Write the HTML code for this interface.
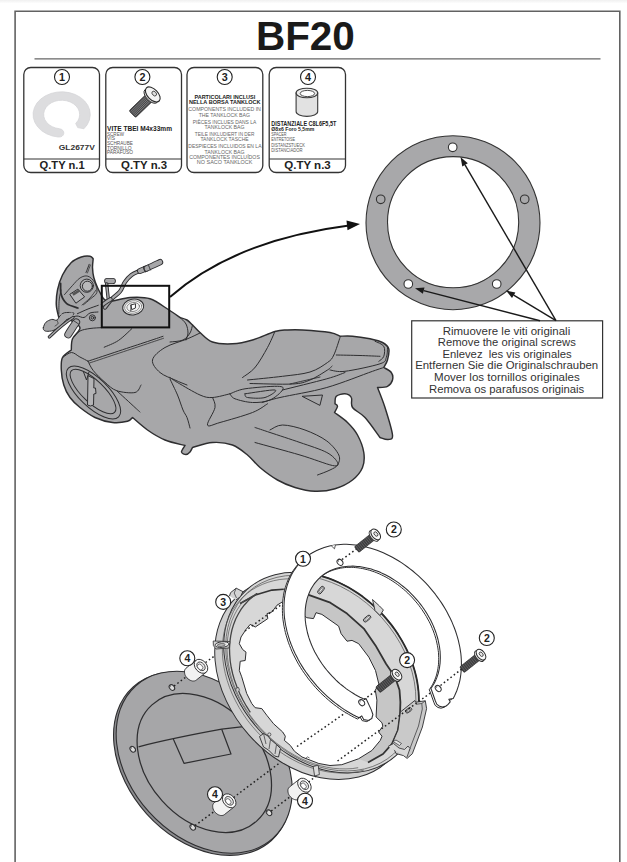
<!DOCTYPE html>
<html><head><meta charset="utf-8"><title>BF20</title><style>
html,body{margin:0;padding:0;background:#fff;overflow:hidden}
svg{display:block}
text{font-family:"Liberation Sans",sans-serif}
</style></head><body>
<svg width="627" height="862" viewBox="0 0 627 862">
<defs>
<linearGradient id="tg" x1="0" y1="0" x2="0" y2="1"><stop offset="0" stop-color="#f0f0f0"/><stop offset="1" stop-color="#ffffff"/></linearGradient>
</defs>
<rect x="0" y="0" width="627" height="862" fill="#fff"/>
<rect x="0" y="0" width="627" height="3.5" fill="url(#tg)"/>

<path d="M15.1 862 V11.3 H619.8 V862" fill="none" stroke="#626262" stroke-width="1.6"/>
<path d="M34.5 58.8 H600.5" stroke="#666" stroke-width="1.3"/>
<text x="305.4" y="50.2" font-size="41.5" font-weight="bold" text-anchor="middle" textLength="99" lengthAdjust="spacingAndGlyphs" fill="#1a1a1a" >BF20</text>
<rect x="23.8" y="67.5" width="75.7" height="105" rx="7" ry="7" fill="#fff" stroke="#333" stroke-width="1.3"/>
<path d="M23.8 159 H99.5" stroke="#333" stroke-width="1.2"/>
<rect x="105.8" y="67.5" width="75.7" height="105" rx="7" ry="7" fill="#fff" stroke="#333" stroke-width="1.3"/>
<path d="M105.8 159 H181.5" stroke="#333" stroke-width="1.2"/>
<rect x="187" y="67.5" width="75.80000000000001" height="105" rx="7" ry="7" fill="#fff" stroke="#333" stroke-width="1.3"/>
<rect x="269.2" y="67.5" width="76.30000000000001" height="105" rx="7" ry="7" fill="#fff" stroke="#333" stroke-width="1.3"/>
<path d="M269.2 159 H345.5" stroke="#333" stroke-width="1.2"/>
<circle cx="62" cy="77" r="7.5" fill="#fff" stroke="#222" stroke-width="1.1"/>
<text x="62" y="80.9" font-size="10.8" font-weight="bold" text-anchor="middle" fill="#222" >1</text>
<circle cx="142.4" cy="77" r="7.5" fill="#fff" stroke="#222" stroke-width="1.1"/>
<text x="142.4" y="80.9" font-size="10.8" font-weight="bold" text-anchor="middle" fill="#222" >2</text>
<circle cx="224.7" cy="77" r="7.5" fill="#fff" stroke="#222" stroke-width="1.1"/>
<text x="224.7" y="80.9" font-size="10.8" font-weight="bold" text-anchor="middle" fill="#222" >3</text>
<circle cx="308" cy="77" r="7.5" fill="#fff" stroke="#222" stroke-width="1.1"/>
<text x="308" y="80.9" font-size="10.8" font-weight="bold" text-anchor="middle" fill="#222" >4</text>
<text x="62.1" y="169.4" font-size="11" font-weight="bold" text-anchor="middle" textLength="45" lengthAdjust="spacingAndGlyphs" fill="#222" >Q.TY n.1</text>
<text x="144.1" y="169.4" font-size="11" font-weight="bold" text-anchor="middle" textLength="46" lengthAdjust="spacingAndGlyphs" fill="#222" >Q.TY n.3</text>
<text x="307.5" y="169.4" font-size="11" font-weight="bold" text-anchor="middle" textLength="46.5" lengthAdjust="spacingAndGlyphs" fill="#222" >Q.TY n.3</text>
<g transform="translate(61.7 114.5) scale(1 0.794)"><path d="M22.2 18 A28.6 28.6 0 1 0 -3.5 28.4 A5.3 5.3 0 0 0 -2.2 17.9 A18 18 0 1 1 14 11.3 L16 16.5 Z" fill="#dddddf" stroke="#d4d4d6" stroke-width="0.8"/></g>
<text x="58.8" y="150.2" font-size="6.8" font-weight="bold" textLength="36" lengthAdjust="spacingAndGlyphs" fill="#333" >GL2677V</text>
<g transform="translate(152.8 94.4) rotate(136)"><rect x="3" y="-4.7" width="25.5" height="9.4" rx="1.5" fill="#474749" stroke="#2a2a2a" stroke-width="0.7"/><path d="M6 -3.1 H28" stroke="#9a9a9a" stroke-width="0.6"/><path d="M6 -1.55 H28" stroke="#9a9a9a" stroke-width="0.6"/><path d="M6 0 H28" stroke="#9a9a9a" stroke-width="0.6"/><path d="M6 1.55 H28" stroke="#9a9a9a" stroke-width="0.6"/><path d="M6 3.1 H28" stroke="#9a9a9a" stroke-width="0.6"/><ellipse cx="2.6" cy="0" rx="4.6" ry="8.8" fill="#dadada" stroke="#2a2a2a" stroke-width="0.9"/><ellipse cx="0" cy="0" rx="5.2" ry="9.2" fill="#f4f4f4" stroke="#2a2a2a" stroke-width="1.1"/><ellipse cx="-1.6" cy="-0.4" rx="1.9" ry="2.7" fill="#e0e0e0" stroke="#333" stroke-width="0.8"/></g>
<text x="107" y="130.8" font-size="6.5" font-weight="bold" textLength="65" lengthAdjust="spacingAndGlyphs" fill="#222" >VITE TBEI M4x33mm</text>
<text x="107" y="135.6" font-size="5" textLength="17" lengthAdjust="spacingAndGlyphs" fill="#555" >SCREW</text>
<text x="107" y="140.1" font-size="5" textLength="8" lengthAdjust="spacingAndGlyphs" fill="#555" >VIS</text>
<text x="107" y="145.4" font-size="5" textLength="26" lengthAdjust="spacingAndGlyphs" fill="#555" >SCHRAUBE</text>
<text x="107" y="149.8" font-size="5" textLength="24.5" lengthAdjust="spacingAndGlyphs" fill="#555" >TORNILLO</text>
<text x="107" y="154.3" font-size="5" textLength="26" lengthAdjust="spacingAndGlyphs" fill="#555" >PARAFUSO</text>
<text x="194.4" y="99.1" font-size="5.6" font-weight="bold" textLength="60.8" lengthAdjust="spacingAndGlyphs" fill="#222" >PARTICOLARI INCLUSI</text>
<text x="188.9" y="104" font-size="5.6" font-weight="bold" textLength="71.7" lengthAdjust="spacingAndGlyphs" fill="#222" >NELLA BORSA TANKLOCK</text>
<text x="188.3" y="110.9" font-size="5.4" textLength="72.6" lengthAdjust="spacingAndGlyphs" fill="#666" >COMPONENTS INCLUDED IN</text>
<text x="198.7" y="116.8" font-size="5.4" textLength="51.3" lengthAdjust="spacingAndGlyphs" fill="#666" >THE TANKLOCK BAG</text>
<text x="192.8" y="124" font-size="5.4" textLength="63.5" lengthAdjust="spacingAndGlyphs" fill="#666" >PIÈCES INCLUES DANS LA</text>
<text x="204.6" y="128.5" font-size="5.4" textLength="39.9" lengthAdjust="spacingAndGlyphs" fill="#666" >TANKLOCK BAG</text>
<text x="194.8" y="136" font-size="5.4" textLength="59.5" lengthAdjust="spacingAndGlyphs" fill="#666" >TEILE INKLUDIERT IN DER</text>
<text x="200.4" y="140.6" font-size="5.4" textLength="48.3" lengthAdjust="spacingAndGlyphs" fill="#666" >TANKLOCK TASCHE</text>
<text x="188.3" y="147.8" font-size="5.4" textLength="73.2" lengthAdjust="spacingAndGlyphs" fill="#666" >DESPIECES INCLUIDOS EN LA</text>
<text x="204.6" y="153.7" font-size="5.4" textLength="39.9" lengthAdjust="spacingAndGlyphs" fill="#666" >TANKLOCK BAG</text>
<text x="189.2" y="158.6" font-size="5.4" textLength="70.7" lengthAdjust="spacingAndGlyphs" fill="#666" >COMPONENTES INCLUÍDOS</text>
<text x="196.8" y="163.9" font-size="5.4" textLength="55.6" lengthAdjust="spacingAndGlyphs" fill="#666" >NO SACO TANKLOCK</text>
<g stroke="#3a3a3a" stroke-width="1.1"><path d="M296.1 93 V111.5 A10.8 4.9 0 0 0 317.7 111.5 V93 Z" fill="#e2e2e2"/><ellipse cx="306.9" cy="93" rx="10.8" ry="4.8" fill="#ececec"/><ellipse cx="307.4" cy="93.5" rx="7.2" ry="3.1" fill="#fff" stroke-width="0.9"/></g>
<text x="271.3" y="125.6" font-size="6.3" font-weight="bold" textLength="65" lengthAdjust="spacingAndGlyphs" fill="#222" >DISTANZIALE C8L6F5,5T</text>
<text x="271.3" y="130.7" font-size="5.4" font-weight="bold" textLength="43" lengthAdjust="spacingAndGlyphs" fill="#222" >Ø8x6 Foro 5,5mm</text>
<text x="271.3" y="136.3" font-size="5" textLength="15.3" lengthAdjust="spacingAndGlyphs" fill="#555" >SPACER</text>
<text x="271.3" y="141.3" font-size="5" textLength="23.8" lengthAdjust="spacingAndGlyphs" fill="#555" >ENTRETOISE</text>
<text x="271.3" y="146.5" font-size="5" textLength="33.6" lengthAdjust="spacingAndGlyphs" fill="#555" >DISTANZSTUECK</text>
<text x="271.3" y="152.3" font-size="5" textLength="31.3" lengthAdjust="spacingAndGlyphs" fill="#555" >DISTANCIADOR</text>
<g stroke="#333" stroke-width="1.1"><path fill-rule="evenodd" fill="#a8a8aa" d="M366 222.7 a87 87 0 1 0 174 0 a87 87 0 1 0 -174 0 Z M387.5 222.2 a65.6 65.6 0 1 0 131.2 0 a65.6 65.6 0 1 0 -131.2 0 Z"/><circle cx="452.7" cy="147.3" r="4.3" fill="#fff"/><circle cx="380.7" cy="199.3" r="4.3" fill="#a8a8aa"/><circle cx="524.7" cy="199.3" r="4.3" fill="#a8a8aa"/><circle cx="408.3" cy="284" r="4.3" fill="#fff"/><circle cx="496.7" cy="284" r="4.3" fill="#fff"/></g>
<rect x="411.7" y="320.8" width="190.9" height="77.2" fill="#fff" stroke="#333" stroke-width="1.2"/>
<path d="M556 320.7 L465.0 164.8" stroke="#1a1a1a" stroke-width="1.4" fill="none"/>
<path d="M460.5 157 L467.8 163.2 L462.3 166.4 Z" fill="#1a1a1a"/>
<path d="M556 320.7 L513.7 295.2" stroke="#1a1a1a" stroke-width="1.4" fill="none"/>
<path d="M506 290.5 L515.4 292.4 L512.0 297.9 Z" fill="#1a1a1a"/>
<path d="M540 320.7 L423.7 290.6" stroke="#1a1a1a" stroke-width="1.4" fill="none"/>
<path d="M415 288.3 L424.5 287.5 L422.9 293.7 Z" fill="#1a1a1a"/>
<text x="442.7" y="334.6" font-size="10.9" textLength="127.5" lengthAdjust="spacingAndGlyphs" fill="#333" style="white-space:pre">Rimuovere le viti originali</text>
<text x="437.8" y="346.2" font-size="10.9" textLength="138.0" lengthAdjust="spacingAndGlyphs" fill="#333" style="white-space:pre">Remove the original screws</text>
<text x="442.4" y="358" font-size="10.9" textLength="129.2" lengthAdjust="spacingAndGlyphs" fill="#333" style="white-space:pre">Enlevez  les vis originales</text>
<text x="415.2" y="369.4" font-size="10.9" textLength="183.0" lengthAdjust="spacingAndGlyphs" fill="#333" style="white-space:pre">Entfernen Sie die Originalschrauben</text>
<text x="434" y="381.3" font-size="10.9" textLength="145.8" lengthAdjust="spacingAndGlyphs" fill="#333" style="white-space:pre">Mover los tornillos originales</text>
<text x="429" y="392.7" font-size="10.9" textLength="155.2" lengthAdjust="spacingAndGlyphs" fill="#333" style="white-space:pre">Remova os parafusos originais</text>
<path d="M170 297 Q235 240 349 225.5" fill="none" stroke="#111" stroke-width="2"/>
<path d="M360 224 L347.5 230.3 L346.5 220.5 Z" fill="#111"/>
<g fill="none" stroke="#2e2e30" stroke-width="1" stroke-linejoin="round" stroke-linecap="round">
<path d="M58.8 317.5 C58.4 315.4 56.5 309.6 56.3 305.0 C56.1 300.4 56.5 295.0 57.5 290.0 C58.5 285.0 60.2 279.6 62.5 275.0 C64.8 270.4 68.2 265.5 71.3 262.5 C74.4 259.5 78.2 258.1 81.3 257.0 C84.4 255.9 88.0 255.9 90.0 256.2 C92.0 256.5 92.7 258.4 93.2 258.8 L93.2 258.8 C93.1 260.2 92.4 264.4 92.5 267.5 C92.6 270.6 93.0 274.2 93.8 277.5 C94.6 280.8 96.2 284.6 97.5 287.5 C98.8 290.4 100.7 293.8 101.3 295.0 L101.3 295.0 C101.9 295.8 103.1 299.0 105.0 300.0 C106.9 301.0 108.3 301.4 112.5 301.0 C116.7 300.6 123.8 297.9 130.0 297.5 C136.2 297.1 143.5 296.7 150.0 298.8 C156.5 300.9 164.0 306.9 169.0 310.0 C174.0 313.1 178.2 316.2 180.0 317.5 L180.0 317.5 C181.2 317.9 184.9 318.8 187.0 320.0 C189.1 321.2 190.3 322.9 192.5 325.0 C194.7 327.1 196.7 329.7 200.0 332.5 C203.3 335.3 207.1 340.1 212.5 342.0 C217.9 343.9 225.8 344.1 232.5 343.8 C239.2 343.5 245.4 342.1 252.5 340.0 C259.6 337.9 269.2 333.2 275.0 331.5 C280.8 329.8 282.4 330.2 287.0 330.0 C291.6 329.8 295.3 329.6 302.5 330.0 C309.7 330.4 323.8 331.5 330.0 332.5 C336.2 333.5 338.3 335.6 340.0 336.2 L340.0 336.2 C342.1 336.2 347.5 335.8 352.5 336.2 C357.5 336.6 365.0 337.8 370.0 338.8 C375.0 339.9 379.4 340.8 382.5 342.5 C385.6 344.2 388.0 346.1 388.8 349.0 C389.6 351.9 388.3 356.9 387.5 360.0 C386.7 363.1 384.4 366.2 383.8 367.5 L383.8 367.5 C385.1 368.3 389.9 370.4 391.3 372.5 C392.8 374.6 393.1 377.7 392.5 380.0 C391.9 382.3 390.0 385.1 387.5 386.3 C385.0 387.6 379.2 387.3 377.5 387.5 L377.5 387.5 C378.8 390.8 382.5 399.6 385.0 407.5 C387.5 415.4 392.0 429.7 392.5 435.0 C393.0 440.3 390.1 439.1 388.0 439.5 C385.9 439.9 381.3 437.8 380.0 437.5 L380.0 437.5 C377.5 434.2 369.6 422.5 365.0 417.5 C360.4 412.5 354.8 410.8 352.5 407.5 C350.2 404.2 352.6 399.8 351.3 397.5 C350.1 395.2 347.5 394.0 345.0 393.8 C342.5 393.6 338.0 394.6 336.3 396.3 C334.6 398.0 335.2 402.6 335.0 403.8 L335.0 403.8 C335.4 404.2 337.6 404.9 337.5 406.3 C337.4 407.8 335.0 411.5 334.5 412.5 L334.5 412.5 C336.7 414.2 343.7 418.8 347.5 422.5 C351.3 426.2 354.8 430.0 357.5 435.0 C360.2 440.0 363.0 447.1 363.8 452.5 C364.6 457.9 364.4 462.9 362.5 467.5 C360.6 472.1 357.1 476.4 352.5 480.0 C347.9 483.6 341.2 486.9 335.0 488.8 C328.8 490.7 321.7 491.5 315.0 491.3 C308.3 491.1 301.2 489.4 295.0 487.5 C288.8 485.6 283.3 483.3 277.5 480.0 C271.7 476.7 265.0 471.7 260.0 467.5 C255.0 463.3 252.1 458.8 247.5 455.0 C242.9 451.2 238.3 447.1 232.5 445.0 C226.7 442.9 219.2 442.1 212.5 442.5 C205.8 442.9 195.8 446.7 192.5 447.5 L192.5 447.5 C192.1 448.2 191.1 450.8 190.0 452.0 C188.9 453.2 187.4 454.5 186.0 454.5 C184.6 454.5 181.7 453.5 181.5 452.0 C181.3 450.5 184.4 446.6 185.0 445.5 L185.0 445.5 C181.7 444.6 171.2 442.6 165.0 440.0 C158.8 437.4 152.9 433.8 147.5 430.0 C142.1 426.2 135.0 419.6 132.5 417.5 L132.5 417.5 C131.7 418.1 130.8 420.5 127.5 421.3 C124.2 422.1 117.9 423.1 112.5 422.5 C107.1 421.9 100.4 420.0 95.0 417.5 C89.6 415.0 84.2 410.8 80.0 407.5 C75.8 404.2 72.7 401.2 70.0 397.5 C67.3 393.8 65.2 389.6 63.8 385.0 C62.3 380.4 61.5 374.6 61.3 370.0 C61.1 365.4 60.8 360.8 62.5 357.5 C64.2 354.2 69.8 351.2 71.3 350.0 L71.3 350.0 C71.5 348.1 71.0 342.5 72.5 338.8 C74.0 335.1 80.1 331.0 80.0 328.0 C79.9 325.0 75.5 322.8 72.0 321.0 C68.5 319.2 61.0 318.1 58.8 317.5 Z" fill="#a7a7a9" stroke-width="1.45"/>
<path d="M63.1 357.2 C64.5 356.4 68.7 352.5 71.5 352.5 C74.3 352.5 77.2 355.6 79.9 357.0 C82.7 358.4 86.7 360.5 88.0 361.2" stroke-width="1" />
<path d="M88.0 361.2 C97.2 358.2 130.5 347.1 143.0 343.0 C155.5 338.9 159.7 337.4 163.0 336.3" stroke-width="1" />
<path d="M89.5 363.0 C98.5 360.0 131.2 349.1 143.5 345.0 C155.8 340.9 160.2 339.4 163.5 338.3" stroke-width="0.8" />
<path d="M88.0 361.2 C88.9 362.8 90.5 367.1 93.3 370.6 C96.1 374.1 101.1 379.0 105.0 382.3 C108.9 385.6 111.7 389.0 116.7 390.7 C121.7 392.4 130.9 393.4 135.0 392.5 C139.1 391.6 140.0 386.2 141.0 385.0" stroke-width="1" />
<path d="M116.7 390.7 C119.8 393.5 131.1 403.9 135.0 407.5 C138.9 411.1 139.2 411.2 140.0 412.0" stroke-width="1" />
<path d="M104.2 347.2 C106.6 346.1 113.8 343.6 118.4 340.5 C123.0 337.4 129.6 330.7 131.8 328.7" stroke-width="1" />
<path d="M74.0 337.0 C75.0 336.0 77.3 332.4 80.0 331.0 C82.7 329.6 86.3 329.1 90.0 328.5 C93.7 327.9 100.0 327.8 102.0 327.6" stroke-width="1" />
<ellipse cx="93.5" cy="392.5" rx="35" ry="14.5" transform="rotate(44 93.5 392.5)"/>
<ellipse cx="93" cy="391.5" rx="30" ry="11" transform="rotate(44 93 391.5)"/>
<path d="M88 376 L87.5 405 Q90.5 407 93.5 405 L93.8 394 L96 393.5 L95.5 388 L93.8 388 L94 379 Z" fill="#b4b4b6"/>
<path d="M83.5 372 L86.5 380 L89 372" />
<path d="M200.0 333.0 C197.8 334.0 192.8 336.6 187.0 339.0 C181.2 341.4 170.8 344.0 165.0 347.5 C159.2 351.0 153.3 355.8 152.5 360.0 C151.7 364.2 156.2 369.2 160.0 372.5 C163.8 375.8 170.5 377.9 175.0 380.0 C179.5 382.1 185.0 384.2 187.0 385.0" stroke-width="1" />
<path d="M170.0 379.0 C171.2 381.7 175.3 389.8 177.5 395.0 C179.7 400.2 181.4 406.2 183.0 410.0 C184.6 413.8 185.8 414.5 187.0 417.5 C188.2 420.5 189.5 426.2 190.0 428.0" stroke-width="1" />
<path d="M180.0 317.5 C181.0 318.6 184.7 321.4 186.0 324.0 C187.3 326.6 188.0 330.3 188.0 333.0 C188.0 335.7 186.3 338.8 186.0 340.0" stroke-width="1" />
<path d="M170.0 342.0 C172.2 341.7 179.7 341.5 183.0 340.0 C186.3 338.5 188.4 335.5 190.0 333.0 C191.6 330.5 192.1 326.3 192.5 325.0" stroke-width="1" />
<path d="M275.0 331.3 C273.8 334.0 270.8 341.5 267.5 347.5 C264.2 353.5 259.2 362.5 255.0 367.5 C250.8 372.5 244.6 375.8 242.5 377.5" stroke-width="1" />
<path d="M247.5 380.0 C253.3 379.4 272.1 377.6 282.5 376.3 C292.9 375.0 302.5 374.3 310.0 372.0 C317.5 369.7 323.5 365.3 327.5 362.5 C331.5 359.7 331.7 359.2 333.8 355.0 C335.9 350.8 339.0 340.4 340.0 337.5" stroke-width="1" />
<path d="M250.0 383.5 C257.1 383.6 282.5 384.6 292.5 384.0 C302.5 383.4 304.2 382.3 310.0 380.0 C315.8 377.7 323.8 372.3 327.5 370.0 C331.2 367.7 331.2 366.7 332.0 366.0" stroke-width="1" />
<path d="M336.3 355.0 C340.2 355.1 352.7 355.3 360.0 355.5 C367.3 355.7 376.7 356.2 380.0 356.3" stroke-width="1" />
<path d="M330.0 370.0 C332.5 370.2 336.7 372.3 345.0 371.3 C353.3 370.3 373.1 366.1 380.0 363.8 C386.9 361.5 385.1 360.2 386.3 357.5 C387.6 354.8 387.3 349.2 387.5 347.5" stroke-width="1" />
<path d="M375.0 341.3 C376.5 342.1 382.3 343.8 383.8 346.3 C385.3 348.8 384.6 353.8 383.8 356.3 C383.0 358.8 379.6 360.5 378.8 361.3" stroke-width="1" />
<path d="M230.0 393.8 C232.5 393.0 237.1 390.1 245.0 388.8 C252.9 387.6 271.2 386.1 277.5 386.3 C283.8 386.5 283.8 387.7 282.5 390.0 C281.2 392.3 275.0 397.9 270.0 400.0 C265.0 402.1 258.3 402.7 252.5 402.5 C246.7 402.3 238.8 400.2 235.0 398.8 C231.2 397.4 230.8 394.6 230.0 393.8" stroke-width="1" />
<path d="M245.0 393.8 C250.0 393.2 271.7 389.4 275.0 390.0 C278.3 390.6 269.6 396.2 265.0 397.5 C260.4 398.8 250.8 398.1 247.5 397.5 C244.2 396.9 245.4 394.4 245.0 393.8" stroke-width="1" />
<path d="M282.5 390.0 C289.9 388.1 316.4 381.7 326.8 378.8 C337.2 375.9 342.0 373.6 345.0 372.5" stroke-width="1" />
<path d="M262.0 402.5 C265.0 401.7 269.2 400.0 280.0 397.5 C290.8 395.0 311.4 391.9 326.8 387.5 C342.2 383.1 363.0 374.6 372.5 371.3 C382.0 368.0 381.9 368.1 383.8 367.5" stroke-width="1" />
<path d="M290.0 384.0 C295.0 382.8 315.0 378.2 320.0 377.0" stroke-width="0.9" />
<path d="M302.5 396.3 L322.5 395 L320 405 Z"/>
<path d="M170.0 377.5 C171.2 378.3 172.5 379.6 177.5 382.5 C182.5 385.4 194.2 392.5 200.0 395.0 C205.8 397.5 207.5 397.7 212.5 397.5 C217.5 397.3 227.1 394.4 230.0 393.8" stroke-width="1" />
<path d="M212.5 397.5 C212.9 399.2 215.8 402.9 215.0 407.5 C214.2 412.1 206.7 422.5 207.5 425.0 C208.3 427.5 212.5 424.6 220.0 422.5 C227.5 420.4 244.6 415.6 252.5 412.5 C260.4 409.4 265.0 405.2 267.5 403.8" stroke-width="1" />
<path d="M255.0 427.5 C257.5 428.3 262.5 430.0 270.0 432.5 C277.5 435.0 290.5 439.2 300.0 442.5 C309.5 445.8 320.6 449.2 326.8 452.5 C333.1 455.8 336.6 460.3 337.5 462.5 C338.4 464.7 338.8 466.8 332.5 465.5 C326.2 464.2 312.9 458.8 300.0 455.0 C287.1 451.2 262.5 444.6 255.0 442.5" stroke-width="1" />
<path d="M270.0 430.0 C272.1 429.2 276.7 425.0 282.5 425.0 C288.3 425.0 297.6 427.3 305.0 430.0 C312.4 432.7 321.2 436.8 326.8 441.0 C332.4 445.2 337.0 451.0 338.8 455.0 C340.6 459.0 339.0 462.5 337.5 465.0 C336.0 467.5 333.3 468.3 330.0 470.0 C326.7 471.7 319.6 474.2 317.5 475.0" stroke-width="1" />
<path d="M58.8 314.0 C58.9 311.7 58.8 304.0 59.2 300.0 C59.6 296.0 60.7 291.7 61.0 290.0" stroke-width="0.9" />
<path d="M60.6 283.5 C60.7 285.4 60.2 291.2 61.2 294.6 C62.2 298.0 63.9 301.4 66.7 303.6 C69.5 305.8 76.0 307.3 77.9 308.0" stroke-width="1.8" />
<path d="M64.5 294.6 C65.8 293.1 69.7 288.5 72.3 285.7 C74.9 282.9 77.5 279.5 80.1 277.9 C82.7 276.3 85.5 275.4 87.9 276.2 C90.3 276.9 93.1 279.7 94.6 282.4 C96.1 285.1 97.6 289.6 96.9 292.4 C96.2 295.2 92.4 297.1 90.2 299.1 C88.0 301.2 84.6 303.8 83.5 304.7" stroke-width="0.9" />
<circle cx="86.8" cy="285.7" r="6.6" fill="#b0b0b2"/>
<circle cx="87.4" cy="286.2" r="5" fill="#b8b8ba"/>
<path d="M70.1 294.1 L77.9 289.1 L84.6 296.9 L76.2 303 Z" fill="#b4b4b6"/>
<path d="M72 293.6 L78.6 289.6 L80.2 291.6 L73.6 295.8 Z" fill="#555" stroke="none"/>
<path d="M89.2 264.3 C89.0 264.9 88.3 266.6 87.8 268.0 C87.3 269.4 86.3 271.8 86.0 272.5" stroke-width="1" />
<path d="M90.4 265.0 C90.2 265.6 89.5 267.3 89.0 268.6 C88.5 269.9 87.7 272.3 87.4 273.0" stroke-width="0.8" />
<path d="M82.0 305.0 C83.3 303.8 87.7 300.5 90.0 298.0 C92.3 295.5 95.0 291.3 96.0 290.0" stroke-width="0.8" />
<path d="M77.4 313.7 C79.2 312.9 84.5 310.4 88.0 309.0 C91.5 307.6 96.6 305.9 98.3 305.3" stroke-width="1" />
<path d="M70.0 318.0 C71.2 317.7 74.7 316.1 77.0 316.0 C79.3 315.9 81.8 318.0 84.0 317.5 C86.2 317.0 87.7 313.9 90.0 313.0 C92.3 312.1 96.7 312.2 98.0 312.0" stroke-width="1" />
<circle cx="92.4" cy="317.8" r="3" fill="#b4b4b6"/>
<circle cx="92.4" cy="317.8" r="1.4" fill="#999"/>
<path d="M43.4 327.4 C43.8 326.1 44.5 323.6 45.9 322.3 C47.3 321.0 49.9 319.8 51.7 319.4 C53.5 319.0 55.4 320.8 56.8 320.2 C58.2 319.6 58.7 317.1 60.0 315.9 C61.3 314.7 62.2 313.3 64.4 312.8 C66.6 312.3 72.1 312.3 73.4 312.8 C74.7 313.3 73.4 314.6 72.1 315.9 C70.8 317.2 67.4 318.9 65.7 320.4 C64.0 321.9 63.1 323.7 61.9 324.9 C60.7 326.1 60.2 326.4 58.7 327.4 C57.2 328.3 55.0 330.0 53.0 330.6 C51.0 331.2 48.1 331.4 46.6 331.3 C45.1 331.2 44.3 330.6 43.8 330.0 C43.3 329.4 43.0 328.7 43.4 327.4 Z" fill="#a7a7a9"/>
<path d="M61 314.5 L72.5 312.2 L73 317 L64 319.5 Z" fill="#a7a7a9" stroke="none"/>
<path d="M56.8 320.2 C57.0 320.8 58.3 322.5 58.0 323.5 C57.7 324.5 55.5 325.6 55.0 326.0" stroke-width="0.8" />
<path d="M49.3 337.0 C50.8 335.7 55.2 331.4 58.0 329.0 C60.8 326.6 63.5 324.4 66.0 322.5 C68.5 320.6 71.8 318.3 73.0 317.5" stroke-width="3.2" stroke="#2e2e30"/>
<path d="M49.3 337.0 C50.8 335.7 55.2 331.4 58.0 329.0 C60.8 326.6 63.5 324.4 66.0 322.5 C68.5 320.6 71.8 318.3 73.0 317.5" stroke-width="1.4000000000000001" stroke="#a7a7a9"/>
<path d="M68.2 334.5 C68.8 333.5 70.7 330.5 72.0 328.5 C73.3 326.5 75.5 323.3 76.2 322.3" stroke-width="7.8" stroke="#2e2e30"/>
<path d="M68.2 334.5 C68.8 333.5 70.7 330.5 72.0 328.5 C73.3 326.5 75.5 323.3 76.2 322.3" stroke-width="6.0" stroke="#a7a7a9"/>
<path d="M73.0 320.2 C74.0 320.9 77.8 323.5 78.8 324.2" stroke-width="0.9" />
<path d="M107.2 281.0 C108.1 281.0 111.9 281.0 112.8 281.0" stroke-width="6.2" stroke="#2e2e30"/>
<path d="M107.2 281.0 C108.1 281.0 111.9 281.0 112.8 281.0" stroke-width="4.4" stroke="#a7a7a9"/>
<path d="M106.7 284.0 C106.8 285.3 107.2 289.3 107.5 292.0 C107.8 294.7 108.2 298.7 108.4 300.0" stroke-width="3.4" stroke="#2e2e30"/>
<path d="M106.7 284.0 C106.8 285.3 107.2 289.3 107.5 292.0 C107.8 294.7 108.2 298.7 108.4 300.0" stroke-width="1.5999999999999999" stroke="#a7a7a9"/>
<path d="M105.0 307.5 C106.1 306.1 109.2 301.7 111.7 299.0 C114.2 296.3 117.8 294.3 120.0 291.5 C122.2 288.7 123.1 284.8 125.0 282.0 C126.9 279.2 129.2 276.8 131.5 275.0 C133.8 273.2 136.2 272.4 138.5 271.5 C140.8 270.6 143.9 269.7 145.0 269.3" stroke-width="4.2" stroke="#2e2e30"/>
<path d="M105.0 307.5 C106.1 306.1 109.2 301.7 111.7 299.0 C114.2 296.3 117.8 294.3 120.0 291.5 C122.2 288.7 123.1 284.8 125.0 282.0 C126.9 279.2 129.2 276.8 131.5 275.0 C133.8 273.2 136.2 272.4 138.5 271.5 C140.8 270.6 143.9 269.7 145.0 269.3" stroke-width="2.4000000000000004" stroke="#a7a7a9"/>
<path d="M140.0 271.0 C141.0 270.6 145.0 269.0 146.0 268.6" stroke-width="6" stroke="#2e2e30"/>
<path d="M140.0 271.0 C141.0 270.6 145.0 269.0 146.0 268.6" stroke-width="4.2" stroke="#a7a7a9"/>
<path d="M146.5 268.5 C147.6 268.0 150.8 266.6 153.0 265.5 C155.2 264.4 158.8 262.8 160.0 262.2" stroke-width="6.4" stroke="#2e2e30"/>
<path d="M146.5 268.5 C147.6 268.0 150.8 266.6 153.0 265.5 C155.2 264.4 158.8 262.8 160.0 262.2" stroke-width="4.6000000000000005" stroke="#a7a7a9"/>
<path d="M143.5 266.5 C143.8 267.4 145.0 271.1 145.3 272.0" stroke-width="0.9" />
<path d="M148.3 264.8 C148.7 265.7 150.1 269.1 150.5 270.0" stroke-width="0.9" />
<path d="M103.0 304.5 C103.7 304.0 105.8 302.4 107.0 301.5 C108.2 300.6 109.9 299.7 110.5 299.3" stroke-width="4.4" stroke="#2e2e30"/>
<path d="M103.0 304.5 C103.7 304.0 105.8 302.4 107.0 301.5 C108.2 300.6 109.9 299.7 110.5 299.3" stroke-width="2.6000000000000005" stroke="#a7a7a9"/>
<g transform="rotate(-10 133.2 307)"><ellipse cx="133.2" cy="307" rx="10.6" ry="7.9" fill="#e6e6e6" stroke-width="1"/><ellipse cx="133.2" cy="307" rx="8.6" ry="6.2" fill="#fafafa" stroke-width="0.7" stroke="#777"/><ellipse cx="133.2" cy="307" rx="6.4" ry="4.5" fill="#f0f0f0" stroke-width="0.7" stroke="#666"/><path d="M131.5 304.6 L136 304.2 L135.2 308.4 L131.8 309.2 Z M131.5 304.6 L130.2 310.5" fill="#fff" stroke-width="0.9"/></g>
<rect x="101.8" y="285.8" width="67.4" height="41.6" stroke="#111" stroke-width="2" stroke-linejoin="miter"/>
</g>
<g stroke-linejoin="round" stroke-linecap="butt">
<ellipse cx="202.3" cy="763.7" rx="103.3" ry="74.9" transform="rotate(48 202.3 763.7)" fill="#8c8c8f" stroke="#2e2e30" stroke-width="1.1" />
<ellipse cx="204.2" cy="762.2" rx="102.5" ry="74.3" transform="rotate(48 204.2 762.2)" fill="#a6a6a8" stroke="#2e2e30" stroke-width="1.1" />
<ellipse cx="204.3" cy="763.0" rx="78.2" ry="56.7" transform="rotate(48 204.3 763.0)" fill="none" stroke="#2e2e30" stroke-width="1.25" />
<path d="M138.5 746.8 Q171.7 738.3 221.7 729.2 L243.3 726.7" fill="none" stroke="#2e2e30" stroke-width="1.2"/>
<path d="M173.3 739 L184 763.3 L231 754 L221.7 729.2" fill="none" stroke="#2e2e30" stroke-width="1.2"/>
<ellipse cx="171.9" cy="687.5" rx="3.2" ry="2.3" transform="rotate(48 171.9 687.5)" fill="#dcdcdc" stroke="#2e2e30" stroke-width="1.0" /><path d="M170.5 687.1 L170.4 686.3 L170.5 685.6 L170.9 685.1 L171.5 684.8 L172.2 684.7 L172.9 685.0 L173.7 685.4 L174.3 686.1 L174.7 686.9" fill="none" stroke="#2e2e30" stroke-width="0.6"/>
<ellipse cx="132.7" cy="749.3" rx="3.2" ry="2.3" transform="rotate(48 132.7 749.3)" fill="#dcdcdc" stroke="#2e2e30" stroke-width="1.0" /><path d="M131.3 748.9 L131.2 748.1 L131.3 747.4 L131.7 746.9 L132.3 746.6 L133.0 746.5 L133.7 746.8 L134.5 747.2 L135.1 747.9 L135.5 748.7" fill="none" stroke="#2e2e30" stroke-width="0.6"/>
<ellipse cx="192.7" cy="827.3" rx="3.2" ry="2.3" transform="rotate(48 192.7 827.3)" fill="#dcdcdc" stroke="#2e2e30" stroke-width="1.0" /><path d="M191.3 826.9 L191.2 826.1 L191.3 825.4 L191.7 824.9 L192.3 824.6 L193.0 824.5 L193.7 824.8 L194.5 825.2 L195.1 825.9 L195.5 826.7" fill="none" stroke="#2e2e30" stroke-width="0.6"/>
<ellipse cx="269.0" cy="812.7" rx="3.2" ry="2.3" transform="rotate(48 269.0 812.7)" fill="#dcdcdc" stroke="#2e2e30" stroke-width="1.0" /><path d="M267.6 812.3 L267.5 811.5 L267.6 810.8 L268.0 810.3 L268.6 810.0 L269.3 809.9 L270.0 810.2 L270.8 810.6 L271.4 811.3 L271.8 812.1" fill="none" stroke="#2e2e30" stroke-width="0.6"/>
<path d="M174 686 L190 674" stroke="#222" stroke-width="1.5" stroke-dasharray="1.6 2.6" fill="none"/>
<path d="M195 825.5 L221 806.5" stroke="#222" stroke-width="1.5" stroke-dasharray="1.6 2.6" fill="none"/>
<path d="M271.2 811 L294 793.8" stroke="#222" stroke-width="1.5" stroke-dasharray="1.6 2.6" fill="none"/>
<path d="M206.3 672.1 L196.5 679.9 L195.7 680.5 L194.7 680.9 L193.6 681.0 L192.5 681.0 L191.3 680.7 L190.2 680.3 L189.0 679.6 L188.0 678.8 L187.0 677.9 L186.1 676.8 L185.4 675.7 L184.9 674.5 L184.6 673.2 L184.5 672.1 L184.5 670.9 L184.8 669.9 L185.3 669.0 L186.0 668.2 L195.7 660.5 Z" fill="#f2f2f2" stroke="#2e2e30" stroke-width="0.9"/><ellipse cx="201.0" cy="666.3" rx="7.9" ry="5.7" transform="rotate(48 201.0 666.3)" fill="#fbfbfb" stroke="#2e2e30" stroke-width="0.9" /><ellipse cx="201.0" cy="666.3" rx="4.9" ry="3.5" transform="rotate(48 201.0 666.3)" fill="#e6e6e6" stroke="#2e2e30" stroke-width="0.8" /><ellipse cx="200.1" cy="667.0" rx="3.2" ry="2.3" transform="rotate(48 200.1 667.0)" fill="#fff" stroke="#2e2e30" stroke-width="0.6" />
<path d="M234.5 806.6 L224.7 814.4 L223.9 815.0 L222.9 815.4 L221.8 815.5 L220.7 815.5 L219.5 815.2 L218.4 814.8 L217.2 814.1 L216.2 813.3 L215.2 812.4 L214.3 811.3 L213.6 810.2 L213.1 809.0 L212.8 807.7 L212.7 806.6 L212.7 805.4 L213.0 804.4 L213.5 803.5 L214.2 802.7 L223.9 795.0 Z" fill="#f2f2f2" stroke="#2e2e30" stroke-width="0.9"/><ellipse cx="229.2" cy="800.8" rx="7.9" ry="5.7" transform="rotate(48 229.2 800.8)" fill="#fbfbfb" stroke="#2e2e30" stroke-width="0.9" /><ellipse cx="229.2" cy="800.8" rx="4.9" ry="3.5" transform="rotate(48 229.2 800.8)" fill="#e6e6e6" stroke="#2e2e30" stroke-width="0.8" /><ellipse cx="228.3" cy="801.5" rx="3.2" ry="2.3" transform="rotate(48 228.3 801.5)" fill="#fff" stroke="#2e2e30" stroke-width="0.6" />
<path d="M309.7 791.0 L299.9 798.8 L299.1 799.4 L298.1 799.8 L297.0 799.9 L295.9 799.9 L294.7 799.6 L293.6 799.2 L292.4 798.5 L291.4 797.7 L290.4 796.8 L289.5 795.7 L288.8 794.6 L288.3 793.4 L288.0 792.1 L287.9 791.0 L287.9 789.8 L288.2 788.8 L288.7 787.9 L289.4 787.1 L299.1 779.4 Z" fill="#f2f2f2" stroke="#2e2e30" stroke-width="0.9"/><ellipse cx="304.4" cy="785.2" rx="7.9" ry="5.7" transform="rotate(48 304.4 785.2)" fill="#fbfbfb" stroke="#2e2e30" stroke-width="0.9" /><ellipse cx="304.4" cy="785.2" rx="4.9" ry="3.5" transform="rotate(48 304.4 785.2)" fill="#e6e6e6" stroke="#2e2e30" stroke-width="0.8" /><ellipse cx="303.5" cy="785.9" rx="3.2" ry="2.3" transform="rotate(48 303.5 785.9)" fill="#fff" stroke="#2e2e30" stroke-width="0.6" />
<path d="M205.5 662.5 L220.5 651.5" stroke="#222" stroke-width="1.5" stroke-dasharray="1.6 2.6" fill="none"/>
<path d="M233.5 797.5 L279.5 763" stroke="#222" stroke-width="1.5" stroke-dasharray="1.6 2.6" fill="none"/>
<path d="M308.5 782 L323 771" stroke="#222" stroke-width="1.5" stroke-dasharray="1.6 2.6" fill="none"/>
<ellipse cx="312.3" cy="679.1" rx="111.6" ry="84.5" transform="rotate(48 312.3 679.1)" fill="#cfcfcf" stroke="#2e2e30" stroke-width="1"/>
<ellipse cx="321.3" cy="672.7" rx="111.6" ry="84.5" transform="rotate(48 321.3 672.7)" fill="#d7d7d7" stroke="#2e2e30" stroke-width="1"/>
<ellipse cx="320.8" cy="673.1" rx="108.8" ry="82.4" transform="rotate(48 320.8 673.1)" fill="none" stroke="#555" stroke-width="0.7"/>
<path d="M318.0 575.2 L323.1 576.6 L328.2 578.2 L333.3 580.1 L338.3 582.3 L343.3 584.7 L348.3 587.3 L353.2 590.2 L357.9 593.3 L362.6 596.6 L367.2 600.2 L371.6 603.9 L375.9 607.8 L380.1 611.9 L384.1 616.2 L387.9 620.6 L391.6 625.1 L395.0 629.8 L398.2 634.6 L401.3 639.6 L404.1 644.6 L406.7 649.6 L409.0 654.8 L411.2 660.0 L413.0 665.2 L414.6 670.4 L416.0 675.7 L417.1 681.0 L417.9 686.2 L418.5 691.4 L418.8 696.5 L418.9 701.6 L418.6 706.6 L418.1 711.5 L417.4 716.3" fill="none" stroke="#2a2a2a" stroke-width="1.8"/>
<path d="M372.5 599.5 L379.5 606 L383.4 610 L380 615.5 L375 610.5 Z" fill="#d7d7d7" stroke="#2e2e30" stroke-width="0.9"/>
<path d="M283.7 589.3 L296.0 591.5 L309.3 595.1 L330.3 602.7 L347.0 613.6 L363.8 628.6 L375.5 645.4 L386.0 663.8 L395.0 677.0 L399.5 690.0 L400.4 702.0 L400.0 715.0 L397.9 730.4 L392.0 743.8 L383.0 754.0 L368.0 762.5 L358.5 758.8 L371.9 750.5 L380.3 740.4 L382.0 736.2 L378.6 732.0 L382.8 726.2 L382.0 722.8 L376.1 717.0 L376.9 700.2 L375.3 690.2 L378.8 683.9 L375.5 670.5 L368.8 657.1 L358.7 643.7 L352.0 640.4 L347.0 641.2 L341.1 633.7 L338.6 626.1 L321.9 614.4 L316.0 612.7 L313.5 618.6 L306.8 617.7 L300.0 612.0 L292.0 604.0 L283.0 601.5 Z" fill="#c6c6c6" stroke="none"/>
<path d="M277.0 605.2 L283.0 601.5 L292.0 604.0 L300.0 612.0 L306.8 617.7 L313.5 618.6 L316.0 612.7 L321.9 614.4 L338.6 626.1 L341.1 633.7 L347.0 641.2 L352.0 640.4 L358.7 643.7 L368.8 657.1 L375.5 670.5 L378.8 683.9 L375.3 690.2 L376.9 700.2 L376.1 717.0 L382.0 722.8 L382.8 726.2 L378.6 732.0 L382.0 736.2 L380.3 740.4 L371.9 750.5 L358.5 758.8 L341.8 764.7 L330.0 765.5 L318.8 763.5 L302.0 757.0 L294.5 751.3 L290.3 745.4 L284.4 740.4 L285.3 736.2 L282.7 732.0 L273.5 723.7 L266.8 715.3 L261.8 708.6 L255.1 707.7 L251.8 703.6 L246.7 693.5 L241.7 676.8 L239.3 670.5 L240.2 661.3 L245.2 660.5 L246.0 652.1 L242.7 649.6 L239.3 643.7 L241.0 637.0 L246.0 629.5 L250.2 624.4 L255.3 627.0 L267.8 618.6 L267.0 613.6 L272.0 611.9 Z" fill="#fff" stroke="#2e2e30" stroke-width="1"/>
<path d="M283.7 589.3 L296.0 591.5 L309.3 595.1 L330.3 602.7 L347.0 613.6 L363.8 628.6 L375.5 645.4 L386.0 663.8 L395.0 677.0 L399.5 690.0 L400.4 702.0 L400.0 715.0 L397.9 730.4 L392.0 743.8 L383.0 754.0 L368.0 762.5" fill="none" stroke="#333" stroke-width="1.8"/>
<path d="M240.2 603.5 L255.3 595.1 L272.0 590.1 L283.7 589.3" fill="none" stroke="#333" stroke-width="1.6"/>
<path d="M250.3 712.3 L246.4 706.2 L242.9 700.0 L239.7 693.6 L237.0 687.1 L234.6 680.6 L232.7 674.0 L231.2 667.5 L230.2 661.0 L229.7 654.5 L229.5 648.2 L229.9 641.9 L230.7 635.9 L231.9 630.0 L233.6 624.4 L235.7 619.0 L238.3 614.0 L241.2 609.2 L244.6 604.7 L248.3 600.6 L252.4 596.9 L256.9 593.6 L240.2 603.5" fill="none" stroke="#444" stroke-width="1.3"/>
<path d="M363.9 770.1 L358.0 771.5 L351.9 772.5 L345.6 773.0 L339.2 773.0 L332.6 772.5 L326.0 771.6 L319.3 770.1 L312.6 768.2 L305.9 765.8 L299.3 763.0 L292.8 759.7 L286.3 756.0 L280.1 751.9 L274.0 747.4 L268.2 742.6 L262.5 737.4 L257.2 731.9 L252.2 726.2 L247.4 720.2 L243.1 713.9 L239.1 707.5 L235.5 700.9 L232.3 694.2 L229.5 687.4 L227.2 680.5 L225.3 673.6 L223.9 666.8 L222.9 659.9 L222.4 653.2 L222.4 646.5 L222.9 640.0 L223.8 633.7 L225.2 627.6 L227.1 621.8 L229.4 616.2 L232.1 610.9 L235.3 606.0 L238.9 601.4 L242.9 597.1 L247.2 593.3 L251.9 589.9 L257.0 586.9 L262.3 584.4 L267.9 582.3 L273.7 580.7 L279.8 579.5 L286.0 578.9 L292.5 578.7" fill="none" stroke="#555" stroke-width="0.7"/>
<path d="M358.2 767.7 L352.2 768.6 L346.0 768.9 L339.7 768.8 L333.3 768.3 L326.8 767.2 L320.3 765.7 L313.8 763.7 L307.3 761.3 L300.8 758.5 L294.5 755.2 L288.3 751.5 L282.2 747.4 L276.3 743.0 L270.7 738.2 L265.3 733.1 L260.1 727.7 L255.3 722.1 L250.7 716.1 L246.6 710.0 L242.7 703.7 L239.3 697.3 L236.3 690.7 L233.6 684.1 L231.4 677.4 L229.7 670.7 L228.4 664.0 L227.5 657.3 L227.1 650.8 L227.2 644.3 L227.7 638.1 L228.7 631.9 L230.2 626.0 L232.0 620.4 L234.4 615.0 L237.1 609.9 L240.3 605.1 L243.8 600.7" fill="none" stroke="#555" stroke-width="0.7"/>
<!--R3DETAIL-->
<g transform="translate(321 590.1) rotate(-52)"><rect x="-4.2" y="-1.9" width="8.4" height="3.8" rx="1.9" fill="#e4e4e4" stroke="#2e2e30" stroke-width="0.9"/><rect x="-2.9000000000000004" y="-0.8999999999999999" width="5.800000000000001" height="1.7999999999999998" rx="0.8999999999999999" fill="none" stroke="#2e2e30" stroke-width="0.5"/></g>
<g transform="translate(367.1 618.6) rotate(-40)"><rect x="-4.2" y="-1.9" width="8.4" height="3.8" rx="1.9" fill="#e4e4e4" stroke="#2e2e30" stroke-width="0.9"/><rect x="-2.9000000000000004" y="-0.8999999999999999" width="5.800000000000001" height="1.7999999999999998" rx="0.8999999999999999" fill="none" stroke="#2e2e30" stroke-width="0.5"/></g>
<path d="M229.5 596 L230.6 592.6 L236.2 588.2 L242.9 591.6 L240.5 596.5 L236 600" fill="#d4d4d4" stroke="#2e2e30" stroke-width="0.9"/>
<path d="M236.2 588.2 L234.2 593 L236.5 598" fill="none" stroke="#2e2e30" stroke-width="0.7"/>
<path d="M213.2 641 Q212.2 646 216 649 L229 648 L230 641.5 Z" fill="#d4d4d4" stroke="#2e2e30" stroke-width="0.8"/>
<ellipse cx="222" cy="644.6" rx="7" ry="2.8" transform="rotate(-6 222 644.6)" fill="#e9e9e9" stroke="#2e2e30" stroke-width="0.9"/>
<ellipse cx="221.2" cy="645" rx="4" ry="1.4" transform="rotate(-6 221.2 645)" fill="#bbb" stroke="#2e2e30" stroke-width="0.6"/>
<path d="M414.8 700.5 L415.5 702.2 L425.3 700.8 L426.6 708.6 L422.4 727 L412.3 753.8 L407.1 758.4 L403.5 755.6 L396 753.6 L392 744 L398 730 L400.4 712 Z" fill="#c9c9c9" stroke="#2e2e30" stroke-width="0.9"/>
<path d="M421.8 703.5 L422.3 709 L418.5 726 L409 751" fill="none" stroke="#2e2e30" stroke-width="0.7"/>
<path d="M425.3 700.8 L421.8 703.5 L416 704.3" fill="none" stroke="#2e2e30" stroke-width="0.7"/>
<path d="M388 746.5 L393.5 743.5 L399 748 L404.5 749.5 L408 746 L410 748.5 L407 757" fill="#d8d8d8" stroke="#2e2e30" stroke-width="0.8"/>
<path d="M393 741.5 L399.5 745.5 L401.5 743.5 L396 740 Z" fill="#e4e4e4" stroke="#2e2e30" stroke-width="0.7"/>
<g transform="translate(408.6 710.3) rotate(-35)"><rect x="-3.4" y="-1.7" width="6.8" height="3.4" rx="1.7" fill="#e4e4e4" stroke="#2e2e30" stroke-width="0.9"/><rect x="-2.0999999999999996" y="-0.7" width="4.199999999999999" height="1.4" rx="0.7" fill="none" stroke="#2e2e30" stroke-width="0.5"/></g>
<path d="M259.5 736.5 L263.5 733.5 L268 736 L270.5 739.5 L276.5 744.5 L280.5 748.5 L278.5 757 L274.5 756 L268.5 750 L263.5 747 Z" fill="#d0d0d0" stroke="#2e2e30" stroke-width="0.9"/>
<path d="M263.5 733.5 L266 744 M270.5 739.5 L269 749 M276.5 744.5 L275 754" fill="none" stroke="#2e2e30" stroke-width="0.7"/>
<circle cx="269.3" cy="734.5" r="1.6" fill="#ddd" stroke="#2e2e30" stroke-width="0.7"/>
<path d="M313.2 766.5 L318.2 765.2 L319.4 774.5 L314.6 776 Z" fill="#dcdcdc" stroke="#2e2e30" stroke-width="0.8"/>
<path d="M305.5 758.5 q2 -3 4 -0.5" fill="none" stroke="#2e2e30" stroke-width="0.7"/>
<path d="M236 691 q-1 -3.5 2.5 -3.5 l1.2 3" fill="#ccc" stroke="#2e2e30" stroke-width="0.7"/>
<path d="M245 631 L283 603.5" stroke="#222" stroke-width="1.5" stroke-dasharray="1.6 2.6" fill="none"/>
<path d="M297 746.5 L360.5 702.3" stroke="#222" stroke-width="1.5" stroke-dasharray="1.6 2.6" fill="none"/>
<path d="M337.5 761 L436.5 688.5" stroke="#222" stroke-width="1.5" stroke-dasharray="1.6 2.6" fill="none"/>
<path d="M359.1 717.8 L356.0 716.3 L353.0 714.7 L350.0 713.0 L347.0 711.2 L344.0 709.4 L341.1 707.4 L338.2 705.3 L335.4 703.2 L332.6 701.0 L329.9 698.7 L327.2 696.3 L324.6 693.9 L322.0 691.4 L319.5 688.8 L317.0 686.1 L314.7 683.4 L312.4 680.6 L310.1 677.8 L308.0 674.9 L305.9 672.0 L303.9 669.1 L302.0 666.1 L300.1 663.0 L298.4 659.9 L296.8 656.8 L295.2 653.7 L293.7 650.6 L292.4 647.4 L291.1 644.2 L289.9 641.0 L288.9 637.8 L287.9 634.6 L287.0 631.4 L286.3 628.2 L285.6 625.0 L285.1 621.9 L284.6 618.7 L284.3 615.6 L284.1 612.5 L284.0 609.4 L284.0 606.4 L284.1 603.4 L284.3 600.4 L284.6 597.5 L285.0 594.6 L285.5 591.7 L286.2 589.0 L286.9 586.3 L287.8 583.6 L288.7 581.0 L289.8 578.5 L290.9 576.0 L292.2 573.6 L293.5 571.3 L295.0 569.1 L296.5 567.0 L298.1 564.9 L299.9 562.9 L301.7 561.0 L303.6 559.2 L305.6 557.5 L307.6 555.9 L309.8 554.4 L312.0 553.0 L314.3 551.7 L316.7 550.5 L319.1 549.4 L321.6 548.4 L324.2 547.5 L326.8 546.7 L329.5 546.0 L332.2 545.5 L335.0 545.0 L337.8 544.7 L340.7 544.5 L343.6 544.3 L346.5 544.3 L349.5 544.4 L352.5 544.7 L355.5 545.0 L358.6 545.4 L361.6 546.0 L364.7 546.6 L367.8 547.4 L370.9 548.3 L374.0 549.2 L377.1 550.3 L380.2 551.5 L383.3 552.8 L386.3 554.2 L389.4 555.7 L392.4 557.3 L395.4 559.0 L398.4 560.8 L401.4 562.6 L404.3 564.6 L407.2 566.7 L410.0 568.8 L412.8 571.0 L415.5 573.3 L418.2 575.7 L420.8 578.1 L423.4 580.6 L425.9 583.2 L428.4 585.9 L430.7 588.6 L433.0 591.4 L435.3 594.2 L437.4 597.1 L439.5 600.0 L441.5 602.9 L443.4 605.9 L445.3 609.0 L447.0 612.1 L448.6 615.2 L450.2 618.3 L451.7 621.4 L453.0 624.6 L454.3 627.8 L455.5 631.0 L456.5 634.2 L457.5 637.4 L458.4 640.6 L459.1 643.8 L459.8 647.0 L460.3 650.1 L460.8 653.3 L461.1 656.4 L461.3 659.5 L461.4 662.6 L461.4 665.6 L461.3 668.6 L461.1 671.6 L460.8 674.5 L460.4 677.4 L459.9 680.3 L459.2 683.0 L458.5 685.7 L457.6 688.4 L456.7 691.0 L455.6 693.5 L454.5 696.0 L453.2 698.4 L448.8 699.3 L450.2 701.8 L448.1 704.4 L446.1 706.0 L442.6 707.0 L439.6 706.3 L436.7 704.1 L435.4 701.0 L431.5 690.0 L430.8 688.6 L431.9 687.0 L433.0 685.3 L434.1 683.5 L435.0 681.7 L435.9 679.8 L436.7 677.9 L437.4 675.9 L438.1 673.9 L438.6 671.8 L439.1 669.7 L439.5 667.6 L439.8 665.4 L440.1 663.1 L440.2 660.9 L440.3 658.6 L440.3 656.3 L440.2 653.9 L440.1 651.5 L439.8 649.2 L439.5 646.8 L439.0 644.3 L438.5 641.9 L438.0 639.5 L437.3 637.0 L436.6 634.6 L435.8 632.2 L434.9 629.7 L433.9 627.3 L432.9 624.9 L431.8 622.5 L430.6 620.1 L429.3 617.8 L428.0 615.4 L426.6 613.1 L425.1 610.8 L423.6 608.5 L422.0 606.3 L420.4 604.1 L418.7 602.0 L416.9 599.9 L415.1 597.8 L413.3 595.8 L411.3 593.8 L409.4 591.9 L407.4 590.0 L405.3 588.2 L403.2 586.5 L401.1 584.8 L399.0 583.2 L396.8 581.6 L394.5 580.1 L392.3 578.7 L390.0 577.3 L387.7 576.0 L385.4 574.8 L383.1 573.7 L380.8 572.6 L378.4 571.6 L376.1 570.7 L373.7 569.9 L371.3 569.1 L369.0 568.5 L366.6 567.9 L364.3 567.4 L361.9 567.0 L359.6 566.6 L357.3 566.4 L355.0 566.2 L352.8 566.1 L350.5 566.2 L348.3 566.2 L346.1 566.4 L344.0 566.7 L341.8 567.0 L339.8 567.5 L337.7 568.0 L335.7 568.6 L333.8 569.2 L331.9 570.0 L330.0 570.8 L328.2 571.8 L326.4 572.8 L324.8 573.8 L323.1 575.0 L321.5 576.2 L320.0 577.5 L318.6 578.9 L317.2 580.3 L315.9 581.8 L314.6 583.4 L313.5 585.0 L312.4 586.7 L311.3 588.5 L310.4 590.3 L309.5 592.2 L308.7 594.1 L308.0 596.1 L307.3 598.1 L306.8 600.2 L306.3 602.3 L305.9 604.4 L305.6 606.6 L305.3 608.9 L305.2 611.1 L305.1 613.4 L305.1 615.7 L305.2 618.1 L305.3 620.5 L305.6 622.8 L305.9 625.2 L306.4 627.7 L306.9 630.1 L307.4 632.5 L308.1 635.0 L308.8 637.4 L309.6 639.8 L310.5 642.3 L311.5 644.7 L312.5 647.1 L313.6 649.5 L314.8 651.9 L316.1 654.2 L317.4 656.6 L318.8 658.9 L320.3 661.2 L321.8 663.5 L323.4 665.7 L325.0 667.9 L326.7 670.0 L328.5 672.1 L330.3 674.2 L332.1 676.2 L334.1 678.2 L336.0 680.1 L338.0 682.0 L340.1 683.8 L342.2 685.5 L344.3 687.2 L346.4 688.8 L348.6 690.4 L350.9 691.9 L353.1 693.3 L355.4 694.7 L357.7 696.0 L360.0 697.2 L362.3 698.3 L364.6 699.4 L366.0 698.5 L371.2 709.6 L372.9 714.5 L371.8 718.5 L368.4 720.4 L363.7 719.4 L361.8 715.9 Z" transform="translate(-1.6 1.2)" fill="#fff" stroke="#2e2e30" stroke-width="1"/>
<path d="M359.1 717.8 L356.0 716.3 L353.0 714.7 L350.0 713.0 L347.0 711.2 L344.0 709.4 L341.1 707.4 L338.2 705.3 L335.4 703.2 L332.6 701.0 L329.9 698.7 L327.2 696.3 L324.6 693.9 L322.0 691.4 L319.5 688.8 L317.0 686.1 L314.7 683.4 L312.4 680.6 L310.1 677.8 L308.0 674.9 L305.9 672.0 L303.9 669.1 L302.0 666.1 L300.1 663.0 L298.4 659.9 L296.8 656.8 L295.2 653.7 L293.7 650.6 L292.4 647.4 L291.1 644.2 L289.9 641.0 L288.9 637.8 L287.9 634.6 L287.0 631.4 L286.3 628.2 L285.6 625.0 L285.1 621.9 L284.6 618.7 L284.3 615.6 L284.1 612.5 L284.0 609.4 L284.0 606.4 L284.1 603.4 L284.3 600.4 L284.6 597.5 L285.0 594.6 L285.5 591.7 L286.2 589.0 L286.9 586.3 L287.8 583.6 L288.7 581.0 L289.8 578.5 L290.9 576.0 L292.2 573.6 L293.5 571.3 L295.0 569.1 L296.5 567.0 L298.1 564.9 L299.9 562.9 L301.7 561.0 L303.6 559.2 L305.6 557.5 L307.6 555.9 L309.8 554.4 L312.0 553.0 L314.3 551.7 L316.7 550.5 L319.1 549.4 L321.6 548.4 L324.2 547.5 L326.8 546.7 L329.5 546.0 L332.2 545.5 L335.0 545.0 L337.8 544.7 L340.7 544.5 L343.6 544.3 L346.5 544.3 L349.5 544.4 L352.5 544.7 L355.5 545.0 L358.6 545.4 L361.6 546.0 L364.7 546.6 L367.8 547.4 L370.9 548.3 L374.0 549.2 L377.1 550.3 L380.2 551.5 L383.3 552.8 L386.3 554.2 L389.4 555.7 L392.4 557.3 L395.4 559.0 L398.4 560.8 L401.4 562.6 L404.3 564.6 L407.2 566.7 L410.0 568.8 L412.8 571.0 L415.5 573.3 L418.2 575.7 L420.8 578.1 L423.4 580.6 L425.9 583.2 L428.4 585.9 L430.7 588.6 L433.0 591.4 L435.3 594.2 L437.4 597.1 L439.5 600.0 L441.5 602.9 L443.4 605.9 L445.3 609.0 L447.0 612.1 L448.6 615.2 L450.2 618.3 L451.7 621.4 L453.0 624.6 L454.3 627.8 L455.5 631.0 L456.5 634.2 L457.5 637.4 L458.4 640.6 L459.1 643.8 L459.8 647.0 L460.3 650.1 L460.8 653.3 L461.1 656.4 L461.3 659.5 L461.4 662.6 L461.4 665.6 L461.3 668.6 L461.1 671.6 L460.8 674.5 L460.4 677.4 L459.9 680.3 L459.2 683.0 L458.5 685.7 L457.6 688.4 L456.7 691.0 L455.6 693.5 L454.5 696.0 L453.2 698.4 L448.8 699.3 L450.2 701.8 L448.1 704.4 L446.1 706.0 L442.6 707.0 L439.6 706.3 L436.7 704.1 L435.4 701.0 L431.5 690.0 L430.8 688.6 L431.9 687.0 L433.0 685.3 L434.1 683.5 L435.0 681.7 L435.9 679.8 L436.7 677.9 L437.4 675.9 L438.1 673.9 L438.6 671.8 L439.1 669.7 L439.5 667.6 L439.8 665.4 L440.1 663.1 L440.2 660.9 L440.3 658.6 L440.3 656.3 L440.2 653.9 L440.1 651.5 L439.8 649.2 L439.5 646.8 L439.0 644.3 L438.5 641.9 L438.0 639.5 L437.3 637.0 L436.6 634.6 L435.8 632.2 L434.9 629.7 L433.9 627.3 L432.9 624.9 L431.8 622.5 L430.6 620.1 L429.3 617.8 L428.0 615.4 L426.6 613.1 L425.1 610.8 L423.6 608.5 L422.0 606.3 L420.4 604.1 L418.7 602.0 L416.9 599.9 L415.1 597.8 L413.3 595.8 L411.3 593.8 L409.4 591.9 L407.4 590.0 L405.3 588.2 L403.2 586.5 L401.1 584.8 L399.0 583.2 L396.8 581.6 L394.5 580.1 L392.3 578.7 L390.0 577.3 L387.7 576.0 L385.4 574.8 L383.1 573.7 L380.8 572.6 L378.4 571.6 L376.1 570.7 L373.7 569.9 L371.3 569.1 L369.0 568.5 L366.6 567.9 L364.3 567.4 L361.9 567.0 L359.6 566.6 L357.3 566.4 L355.0 566.2 L352.8 566.1 L350.5 566.2 L348.3 566.2 L346.1 566.4 L344.0 566.7 L341.8 567.0 L339.8 567.5 L337.7 568.0 L335.7 568.6 L333.8 569.2 L331.9 570.0 L330.0 570.8 L328.2 571.8 L326.4 572.8 L324.8 573.8 L323.1 575.0 L321.5 576.2 L320.0 577.5 L318.6 578.9 L317.2 580.3 L315.9 581.8 L314.6 583.4 L313.5 585.0 L312.4 586.7 L311.3 588.5 L310.4 590.3 L309.5 592.2 L308.7 594.1 L308.0 596.1 L307.3 598.1 L306.8 600.2 L306.3 602.3 L305.9 604.4 L305.6 606.6 L305.3 608.9 L305.2 611.1 L305.1 613.4 L305.1 615.7 L305.2 618.1 L305.3 620.5 L305.6 622.8 L305.9 625.2 L306.4 627.7 L306.9 630.1 L307.4 632.5 L308.1 635.0 L308.8 637.4 L309.6 639.8 L310.5 642.3 L311.5 644.7 L312.5 647.1 L313.6 649.5 L314.8 651.9 L316.1 654.2 L317.4 656.6 L318.8 658.9 L320.3 661.2 L321.8 663.5 L323.4 665.7 L325.0 667.9 L326.7 670.0 L328.5 672.1 L330.3 674.2 L332.1 676.2 L334.1 678.2 L336.0 680.1 L338.0 682.0 L340.1 683.8 L342.2 685.5 L344.3 687.2 L346.4 688.8 L348.6 690.4 L350.9 691.9 L353.1 693.3 L355.4 694.7 L357.7 696.0 L360.0 697.2 L362.3 698.3 L364.6 699.4 L366.0 698.5 L371.2 709.6 L372.9 714.5 L371.8 718.5 L368.4 720.4 L363.7 719.4 L361.8 715.9 Z" fill="#fff" stroke="#2e2e30" stroke-width="1.05"/>
<ellipse cx="438.2" cy="688.5" rx="3.4" ry="2.5" transform="rotate(48 438.2 688.5)" fill="#fff" stroke="#2e2e30" stroke-width="1.0" /><path d="M436.7 688.1 L436.5 687.3 L436.7 686.5 L437.1 686.0 L437.7 685.6 L438.4 685.6 L439.2 685.8 L440.0 686.3 L440.7 687.1 L441.1 687.9" fill="none" stroke="#2e2e30" stroke-width="0.6"/>
<ellipse cx="361.7" cy="702.7" rx="3.4" ry="2.5" transform="rotate(48 361.7 702.7)" fill="#fff" stroke="#2e2e30" stroke-width="1.0" /><path d="M360.2 702.3 L360.1 701.5 L360.2 700.8 L360.6 700.2 L361.2 699.9 L362.0 699.8 L362.8 700.1 L363.5 700.6 L364.2 701.3 L364.6 702.1" fill="none" stroke="#2e2e30" stroke-width="0.6"/>
<ellipse cx="340.0" cy="562.3" rx="3.4" ry="2.5" transform="rotate(48 340.0 562.3)" fill="#fff" stroke="#2e2e30" stroke-width="1.0" /><path d="M338.5 561.9 L338.3 561.1 L338.4 560.3 L338.8 559.8 L339.4 559.4 L340.2 559.4 L341.0 559.6 L341.8 560.1 L342.4 560.8 L342.8 561.6" fill="none" stroke="#2e2e30" stroke-width="0.6"/>
<path d="M331.2 545.7 L334.5 548.8 L335.4 545.0" fill="#fff" stroke="#2e2e30" stroke-width="0.8"/>
<path d="M342 559.5 L356.5 549" stroke="#222" stroke-width="1.5" stroke-dasharray="1.6 2.6" fill="none"/>
<path d="M364 699.5 L377 690" stroke="#222" stroke-width="1.5" stroke-dasharray="1.6 2.6" fill="none"/>
<path d="M440.5 685.5 L462 668.8" stroke="#222" stroke-width="1.5" stroke-dasharray="1.6 2.6" fill="none"/>
<g transform="translate(375 535) rotate(141.5)"><rect x="2" y="-3.6" width="21.5" height="7.2" rx="1.2" fill="#3e3e40" stroke="#262626" stroke-width="0.6"/><path d="M5.0 -3.5 V3.5" stroke="#7c7c7c" stroke-width="0.5"/><path d="M7.1 -3.5 V3.5" stroke="#7c7c7c" stroke-width="0.5"/><path d="M9.2 -3.5 V3.5" stroke="#7c7c7c" stroke-width="0.5"/><path d="M11.3 -3.5 V3.5" stroke="#7c7c7c" stroke-width="0.5"/><path d="M13.4 -3.5 V3.5" stroke="#7c7c7c" stroke-width="0.5"/><path d="M15.5 -3.5 V3.5" stroke="#7c7c7c" stroke-width="0.5"/><path d="M17.6 -3.5 V3.5" stroke="#7c7c7c" stroke-width="0.5"/><path d="M19.7 -3.5 V3.5" stroke="#7c7c7c" stroke-width="0.5"/><path d="M21.8 -3.5 V3.5" stroke="#7c7c7c" stroke-width="0.5"/><ellipse cx="1.4" cy="0" rx="3.4" ry="6.3" fill="#e2e2e2" stroke="#2a2a2a" stroke-width="1"/><ellipse cx="-0.9" cy="0" rx="3.8" ry="6.2" fill="#fafafa" stroke="#2a2a2a" stroke-width="1"/><ellipse cx="-1.3" cy="0.2" rx="1.6" ry="2.5" fill="#e4e4e4" stroke="#333" stroke-width="0.8"/></g>
<g transform="translate(396.3 675.2) rotate(141.5)"><rect x="2" y="-3.6" width="21.5" height="7.2" rx="1.2" fill="#3e3e40" stroke="#262626" stroke-width="0.6"/><path d="M5.0 -3.5 V3.5" stroke="#7c7c7c" stroke-width="0.5"/><path d="M7.1 -3.5 V3.5" stroke="#7c7c7c" stroke-width="0.5"/><path d="M9.2 -3.5 V3.5" stroke="#7c7c7c" stroke-width="0.5"/><path d="M11.3 -3.5 V3.5" stroke="#7c7c7c" stroke-width="0.5"/><path d="M13.4 -3.5 V3.5" stroke="#7c7c7c" stroke-width="0.5"/><path d="M15.5 -3.5 V3.5" stroke="#7c7c7c" stroke-width="0.5"/><path d="M17.6 -3.5 V3.5" stroke="#7c7c7c" stroke-width="0.5"/><path d="M19.7 -3.5 V3.5" stroke="#7c7c7c" stroke-width="0.5"/><path d="M21.8 -3.5 V3.5" stroke="#7c7c7c" stroke-width="0.5"/><ellipse cx="1.4" cy="0" rx="3.4" ry="6.3" fill="#e2e2e2" stroke="#2a2a2a" stroke-width="1"/><ellipse cx="-0.9" cy="0" rx="3.8" ry="6.2" fill="#fafafa" stroke="#2a2a2a" stroke-width="1"/><ellipse cx="-1.3" cy="0.2" rx="1.6" ry="2.5" fill="#e4e4e4" stroke="#333" stroke-width="0.8"/></g>
<g transform="translate(480.3 655.2) rotate(141.5)"><rect x="2" y="-3.6" width="21.5" height="7.2" rx="1.2" fill="#3e3e40" stroke="#262626" stroke-width="0.6"/><path d="M5.0 -3.5 V3.5" stroke="#7c7c7c" stroke-width="0.5"/><path d="M7.1 -3.5 V3.5" stroke="#7c7c7c" stroke-width="0.5"/><path d="M9.2 -3.5 V3.5" stroke="#7c7c7c" stroke-width="0.5"/><path d="M11.3 -3.5 V3.5" stroke="#7c7c7c" stroke-width="0.5"/><path d="M13.4 -3.5 V3.5" stroke="#7c7c7c" stroke-width="0.5"/><path d="M15.5 -3.5 V3.5" stroke="#7c7c7c" stroke-width="0.5"/><path d="M17.6 -3.5 V3.5" stroke="#7c7c7c" stroke-width="0.5"/><path d="M19.7 -3.5 V3.5" stroke="#7c7c7c" stroke-width="0.5"/><path d="M21.8 -3.5 V3.5" stroke="#7c7c7c" stroke-width="0.5"/><ellipse cx="1.4" cy="0" rx="3.4" ry="6.3" fill="#e2e2e2" stroke="#2a2a2a" stroke-width="1"/><ellipse cx="-0.9" cy="0" rx="3.8" ry="6.2" fill="#fafafa" stroke="#2a2a2a" stroke-width="1"/><ellipse cx="-1.3" cy="0.2" rx="1.6" ry="2.5" fill="#e4e4e4" stroke="#333" stroke-width="0.8"/></g>
<circle cx="303" cy="558.8" r="7.5" fill="#fff" stroke="#222" stroke-width="1.1"/><text x="303" y="562.5999999999999" font-size="10.5" font-weight="bold" text-anchor="middle" fill="#222">1</text>
<circle cx="393.8" cy="529.5" r="7.5" fill="#fff" stroke="#222" stroke-width="1.1"/><text x="393.8" y="533.3" font-size="10.5" font-weight="bold" text-anchor="middle" fill="#222">2</text>
<circle cx="407.1" cy="660.1" r="7.5" fill="#fff" stroke="#222" stroke-width="1.1"/><text x="407.1" y="663.9" font-size="10.5" font-weight="bold" text-anchor="middle" fill="#222">2</text>
<circle cx="486.8" cy="638" r="7.5" fill="#fff" stroke="#222" stroke-width="1.1"/><text x="486.8" y="641.8" font-size="10.5" font-weight="bold" text-anchor="middle" fill="#222">2</text>
<circle cx="223.2" cy="601.9" r="7.5" fill="#fff" stroke="#222" stroke-width="1.1"/><text x="223.2" y="605.6999999999999" font-size="10.5" font-weight="bold" text-anchor="middle" fill="#222">3</text>
<circle cx="187.3" cy="658.3" r="7.5" fill="#fff" stroke="#222" stroke-width="1.1"/><text x="187.3" y="662.0999999999999" font-size="10.5" font-weight="bold" text-anchor="middle" fill="#222">4</text>
<circle cx="215" cy="794.3" r="7.5" fill="#fff" stroke="#222" stroke-width="1.1"/><text x="215" y="798.0999999999999" font-size="10.5" font-weight="bold" text-anchor="middle" fill="#222">4</text>
<circle cx="305" cy="800.7" r="7.5" fill="#fff" stroke="#222" stroke-width="1.1"/><text x="305" y="804.5" font-size="10.5" font-weight="bold" text-anchor="middle" fill="#222">4</text>
</g>
</svg></body></html>
